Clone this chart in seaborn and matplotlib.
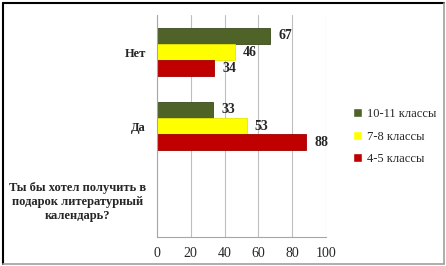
import numpy as np
import pandas as pd
import matplotlib
matplotlib.use('Agg')
import matplotlib.pyplot as plt
import matplotlib.transforms as mtransforms
import seaborn as sns

# Chart data
categories = ['Нет', 'Да', 'Ты бы хотел получить в\nподарок литературный\nкалендарь?']
groups = ['10-11 классы', '7-8 классы', '4-5 классы']
values_10_11 = [67, 33, np.nan]
values_7_8 = [46, 53, np.nan]
values_4_5 = [34, 88, np.nan]
colors = ['#4F6228', '#FFFF00', '#C00000']
edge_colors = ['#3B4A1E', '#E6E600', '#A00000']
x_ticks = [0, 20, 40, 60, 80, 100]

sns.set_style('white')
plt.rcParams['font.family'] = ['Liberation Serif', 'DejaVu Serif']

rows = []
for g, vals in zip(groups, [values_10_11, values_7_8, values_4_5]):
    for c, v in zip(categories, vals):
        rows.append({'category': c, 'group': g, 'value': v})
df = pd.DataFrame(rows)

fig = plt.figure(figsize=(4.46, 2.66), dpi=100)
ax = fig.add_axes([157 / 446, 1 - 237 / 266, (326 - 157) / 446, (237 - 15) / 266])

sns.barplot(data=df, x='value', y='category', hue='group', order=categories,
            hue_order=groups, palette=colors, orient='h', width=0.66,
            saturation=1, ax=ax, legend=True)

for cont, ec in zip(ax.containers, edge_colors):
    for bar in cont:
        bar.set_edgecolor(ec)
        bar.set_linewidth(0.6)
    labels = ['' if np.isnan(b.get_width()) else f'{b.get_width():.0f}' for b in cont]
    ax.bar_label(cont, labels=labels, padding=6, fontsize=10, fontweight='bold')

ax.set_xlim(0, 100)
ax.set_ylim(2.5, -0.5)
ax.set_xticks(x_ticks)
ax.set_xlabel('')
ax.set_ylabel('')
ax.grid(axis='x', color='#BFBFBF', linewidth=0.8)
ax.set_axisbelow(True)

for side in ['top', 'right']:
    ax.spines[side].set_visible(False)
for side in ['left', 'bottom']:
    ax.spines[side].set_color('#A6A6A6')
    ax.spines[side].set_linewidth(0.8)

ax.tick_params(axis='x', length=3, color='#A6A6A6', labelsize=10, pad=4)
ax.tick_params(axis='y', which='major', length=0, labelleft=False)
ax.set_yticks([-0.5, 0.5, 1.5, 2.5], minor=True)
ax.tick_params(axis='y', which='minor', length=3, color='#A6A6A6')

# category labels: right aligned, lines centred
trans = mtransforms.blended_transform_factory(ax.transAxes, ax.transData)
for i, c in enumerate(categories):
    ax.text(-11 / 169, i + 0.03, c, transform=trans, ha='right', va='center',
            multialignment='center', fontsize=9, fontweight='bold',
            linespacing=1.2)

ax.legend(loc='center left', bbox_to_anchor=(348 / 446, 0.5 - 3.5 / 266),
          bbox_transform=fig.transFigure, frameon=False, fontsize=9,
          handlelength=0.7, handleheight=0.7, handletextpad=0.4,
          labelspacing=0.85, borderaxespad=0)

# outer frame: dark top/left, grey bottom/right
fig.add_artist(plt.Line2D([2.5 / 446, 2.5 / 446], [2.5 / 266, 263.5 / 266], color='#000000', lw=1.5))
fig.add_artist(plt.Line2D([2.5 / 446, 443.5 / 446], [263.5 / 266, 263.5 / 266], color='#000000', lw=1.5))
fig.add_artist(plt.Line2D([443.5 / 446, 443.5 / 446], [2.5 / 266, 263.5 / 266], color='#A0A0A0', lw=1.2))
fig.add_artist(plt.Line2D([2.5 / 446, 443.5 / 446], [2.5 / 266, 2.5 / 266], color='#A0A0A0', lw=1.2))
fig.savefig('out.png', dpi=100)
